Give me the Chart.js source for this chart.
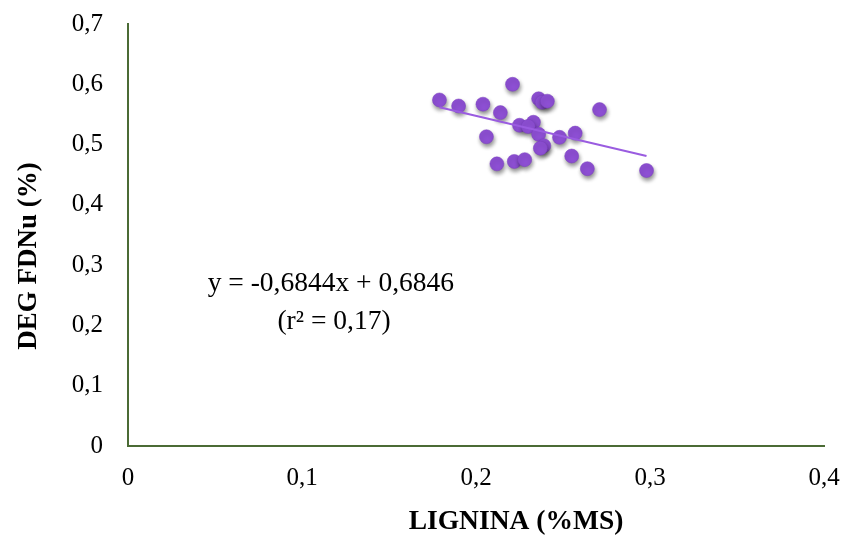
<!DOCTYPE html>
<html>
<head>
<meta charset="utf-8">
<script src="https://cdn.jsdelivr.net/npm/chart.js@4/dist/chart.umd.min.js"></script>
<style>
  html, body { margin: 0; padding: 0; background: #fff; }
  #wrap { width: 846px; height: 542px; }
</style>
</head>
<body>
<div id="wrap"><canvas id="grafico"></canvas></div>
<script>
/* Datos: LIGNINA (%MS) vs DEG FDNu (%) */
const LIGNINA = [
  0.179, 0.190, 0.204, 0.221, 0.214, 0.236, 0.238, 0.241, 0.271,
  0.206, 0.225, 0.233, 0.230, 0.236, 0.248, 0.257, 0.239, 0.237,
  0.255, 0.212, 0.222, 0.228, 0.264, 0.298
];
const DEG_FDNU = [
  0.574, 0.564, 0.567, 0.600, 0.553, 0.576, 0.570, 0.572, 0.558,
  0.513, 0.532, 0.537, 0.530, 0.517, 0.512, 0.519, 0.498, 0.494,
  0.481, 0.468, 0.472, 0.475, 0.460, 0.457
];

// extremos de la recta de tendencia
const TREND_X = [0.179, 0.298];
const TREND_Y = [0.562, 0.481];

const X_TICKS = ["0", "0,1", "0,2", "0,3", "0,4"];
const Y_TICKS = ["0", "0,1", "0,2", "0,3", "0,4", "0,5", "0,6", "0,7"];

const TITULO_X = "LIGNINA (%MS)";
const TITULO_Y = "DEG FDNu (%)";
const ECUACION = ["y = -0,6844x + 0,6846", "(r² = 0,17)"];

const FUENTE = "'Liberation Serif', 'Times New Roman', serif";
const VIOLETA = "#8d4fd3";
const EJE = "#4b6b35";

const puntos = LIGNINA.map((x, i) => ({ x, y: DEG_FDNU[i] }));
const tendencia = TREND_X.map((x, i) => ({ x, y: TREND_Y[i] }));

/* sombra para las bolitas */
const pluginSombra = {
  id: "sombra",
  beforeDatasetDraw(chart, args) {
    if (args.index !== 1) return;
    const c = chart.ctx;
    c.save();
    c.shadowColor = "rgba(0,0,0,0.45)";
    c.shadowBlur = 4;
    c.shadowOffsetX = 1;
    c.shadowOffsetY = 3;
  },
  afterDatasetDraw(chart, args) {
    if (args.index !== 1) return;
    chart.ctx.restore();
  }
};

/* ecuación y títulos de ejes (el original no los centra) */
const pluginTextos = {
  id: "textos",
  afterDraw(chart) {
    const c = chart.ctx;
    const xs = chart.scales.x;
    const ys = chart.scales.y;
    c.save();
    c.fillStyle = "#000";
    c.textAlign = "center";
    c.textBaseline = "middle";

    c.font = "27.5px " + FUENTE;
    c.fillText(ECUACION[0], xs.getPixelForValue(0.1166), ys.getPixelForValue(0.2692));
    c.fillText(ECUACION[1], xs.getPixelForValue(0.1184), ys.getPixelForValue(0.2062));

    c.font = "bold 27.5px " + FUENTE;
    c.fillText(TITULO_X, 516, 522);

    c.translate(29, 256);
    c.rotate(-Math.PI / 2);
    c.font = "bold 27px " + FUENTE;
    c.fillText(TITULO_Y, 0, 0);
    c.restore();
  }
};

new Chart(document.getElementById("grafico"), {
  type: "scatter",
  data: {
    datasets: [
      {
        label: "Tendencia",
        data: tendencia,
        showLine: true,
        borderColor: "#9a5ce0",
        borderWidth: 2,
        pointRadius: 0,
        fill: false
      },
      {
        label: "DEG FDNu",
        data: puntos,
        backgroundColor: VIOLETA,
        borderColor: "#7b3fc0",
        borderWidth: 0.5,
        pointRadius: 7,
        pointHoverRadius: 7
      }
    ]
  },
  options: {
    responsive: true,
    maintainAspectRatio: false,
    animation: false,
    layout: { padding: { top: 24, right: 22, left: 0, bottom: 0 } },
    plugins: {
      legend: { display: false },
      tooltip: { enabled: false }
    },
    scales: {
      x: {
        type: "linear",
        min: 0,
        max: 0.4,
        afterBuildTicks(scale) {
          scale.ticks = X_TICKS.map((t, i) => ({ value: i * 0.1 }));
        },
        ticks: {
          color: "#000",
          font: { family: FUENTE, size: 25 },
          padding: 17,
          maxRotation: 0,
          callback: (v, i) => X_TICKS[i]
        },
        grid: { display: false, drawTicks: false },
        border: { display: true, color: EJE, width: 2 },
        afterFit(scale) {
          scale.height = 96;
          scale.paddingLeft = 0;
          scale.paddingRight = 0;
        }
      },
      y: {
        type: "linear",
        min: 0,
        max: 0.7,
        afterBuildTicks(scale) {
          scale.ticks = Y_TICKS.map((t, i) => ({ value: i * 0.1 }));
        },
        ticks: {
          color: "#000",
          font: { family: FUENTE, size: 25 },
          padding: 25,
          callback: (v, i) => Y_TICKS[i]
        },
        grid: { display: false, drawTicks: false },
        border: { display: true, color: EJE, width: 2 },
        afterFit(scale) {
          scale.width = 128;
          scale.paddingTop = 0;
          scale.paddingBottom = 0;
        }
      }
    }
  },
  plugins: [pluginSombra, pluginTextos]
});
</script>
</body>
</html>
